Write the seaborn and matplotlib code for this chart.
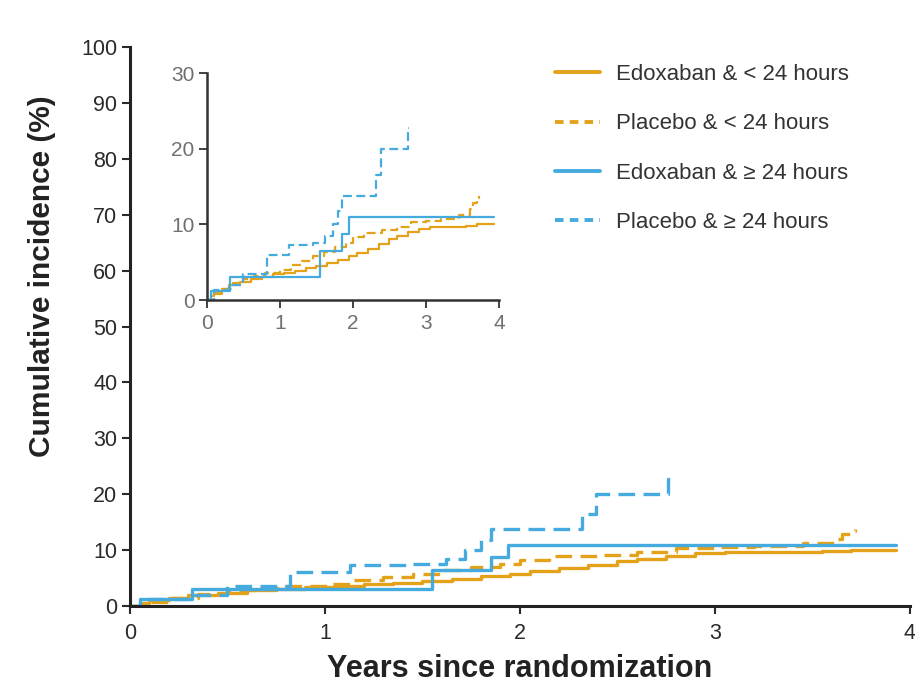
import matplotlib
matplotlib.use("Agg")
import matplotlib.pyplot as plt
import seaborn as sns
import pandas as pd
from matplotlib.lines import Line2D

# ---- data ----
series_names = ["Edoxaban & < 24 hours", "Placebo & < 24 hours",
                "Edoxaban & \u2265 24 hours", "Placebo & \u2265 24 hours"]

edo_lt24_t = [0, 0.05, 0.1, 0.2, 0.3, 0.45, 0.6, 0.75, 0.9, 1.05, 1.2, 1.35, 1.5, 1.65,
              1.8, 1.95, 2.05, 2.2, 2.35, 2.5, 2.6, 2.75, 2.9, 3.05, 3.3, 3.55, 3.7, 3.93]
edo_lt24_y = [0, 0.5, 1.0, 1.5, 2.0, 2.4, 2.8, 3.1, 3.4, 3.6, 3.9, 4.2, 4.5, 4.9,
              5.3, 5.8, 6.2, 6.8, 7.4, 8.0, 8.5, 9.0, 9.4, 9.6, 9.7, 9.8, 10.0, 10.0]

pla_lt24_t = [0, 0.1, 0.2, 0.35, 0.5, 0.65, 0.8, 1.0, 1.15, 1.3, 1.45, 1.6, 1.75, 1.9,
              2.0, 2.15, 2.4, 2.6, 2.8, 3.0, 3.2, 3.45, 3.6, 3.65, 3.7, 3.72]
pla_lt24_y = [0, 0.8, 1.5, 2.2, 2.8, 3.2, 3.6, 4.0, 4.6, 5.2, 5.8, 6.4, 7.0, 7.6,
              8.3, 8.9, 9.2, 9.6, 10.3, 10.5, 10.7, 11.3, 12.0, 12.8, 13.5, 13.8]

edo_ge24_t = [0, 0.05, 0.32, 1.55, 1.85, 1.94, 3.93]
edo_ge24_y = [0, 1.2, 3.1, 6.5, 8.7, 11.0, 11.0]

pla_ge24_t = [0, 0.1, 0.3, 0.5, 0.82, 1.13, 1.45, 1.62, 1.72, 1.8, 1.85, 2.32, 2.39, 2.76, 2.77]
pla_ge24_y = [0, 1.3, 2.0, 3.5, 6.0, 7.3, 7.5, 8.5, 10.0, 11.8, 13.8, 16.5, 20.0, 22.8, 22.8]

main_yticks = [0, 10, 20, 30, 40, 50, 60, 70, 80, 90, 100]
main_xticks = [0, 1, 2, 3, 4]
inset_yticks = [0, 10, 20, 30]
inset_xticks = [0, 1, 2, 3, 4]

# ---- styling ----
ORANGE = "#E3A21A"
BLUE = "#45ABDF"
colors = {series_names[0]: ORANGE, series_names[1]: ORANGE,
          series_names[2]: BLUE, series_names[3]: BLUE}
dash_main = {series_names[0]: "", series_names[1]: (5, 2.5),
             series_names[2]: "", series_names[3]: (5, 2.5)}

frames = []
for name, t, y in zip(series_names,
                      [edo_lt24_t, pla_lt24_t, edo_ge24_t, pla_ge24_t],
                      [edo_lt24_y, pla_lt24_y, edo_ge24_y, pla_ge24_y]):
    frames.append(pd.DataFrame({"t": t, "y": y, "series": name}))
df = pd.concat(frames, ignore_index=True)

sns.set_style("ticks")
plt.rcParams["font.family"] = ["Liberation Sans", "DejaVu Sans"]

fig = plt.figure(figsize=(9.15, 6.85), dpi=100)
ax = fig.add_axes([0.142, 0.1153, 0.8525, 0.816])

sns.lineplot(data=df, x="t", y="y", hue="series", style="series",
             palette=colors, dashes=dash_main, hue_order=series_names,
             style_order=series_names, estimator=None, sort=False,
             drawstyle="steps-post", linewidth=2.4, legend=False, ax=ax)

ax.set_xlim(0, 4)
ax.set_ylim(0, 100)
ax.set_xticks(main_xticks)
ax.set_yticks(main_yticks)
ax.tick_params(axis="both", labelsize=15.5, colors="#2a2a2a", length=6, width=1.5)
ax.tick_params(axis="x", pad=6)
ax.tick_params(axis="y", pad=3)
for s in ["left", "bottom"]:
    ax.spines[s].set_linewidth(2.2)
    ax.spines[s].set_color("#222222")
ax.spines["top"].set_visible(False)
ax.spines["right"].set_visible(False)
ax.set_xlabel("Years since randomization", fontsize=22, fontweight="bold",
              color="#222222")
ax.set_ylabel("Cumulative incidence (%)", fontsize=21.5, fontweight="bold",
              color="#222222")
ax.xaxis.set_label_coords(0.5, -0.086)
ax.yaxis.set_label_coords(-0.095, 0.59)

# ---- inset ----
iax = fig.add_axes([0.2262, 0.562, 0.3191, 0.3314])
sns.lineplot(data=df, x="t", y="y", hue="series", style="series",
             palette=colors, dashes={k: ((4, 2) if v else "") for k, v in dash_main.items()},
             hue_order=series_names, style_order=series_names, estimator=None,
             sort=False, drawstyle="steps-post", linewidth=1.6, legend=False, ax=iax)
iax.set_xlim(0, 4)
iax.set_ylim(0, 30)
iax.set_xticks(inset_xticks)
iax.set_yticks(inset_yticks)
iax.tick_params(axis="both", labelsize=15, labelcolor="#707070", color="#333333",
                length=6, width=1.3, pad=3)
iax.tick_params(axis="x", pad=4)
for s in ["left", "bottom"]:
    iax.spines[s].set_linewidth(1.8)
    iax.spines[s].set_color("#333333")
iax.spines["top"].set_visible(False)
iax.spines["right"].set_visible(False)
iax.set_xlabel("")
iax.set_ylabel("")
iax.patch.set_alpha(0)

# ---- legend ----
handles = [Line2D([], [], color=colors[n], linewidth=2.8,
                  linestyle=("-" if dash_main[n] == "" else (0, (2.2, 1.6))))
           for n in series_names]
fig.legend(handles, series_names, loc="upper left", bbox_to_anchor=(0.585, 0.936),
           frameon=False, fontsize=16, handlelength=2.0, handletextpad=0.75,
           labelspacing=1.28, labelcolor="#333333")

fig.savefig("out.png", dpi=100)
